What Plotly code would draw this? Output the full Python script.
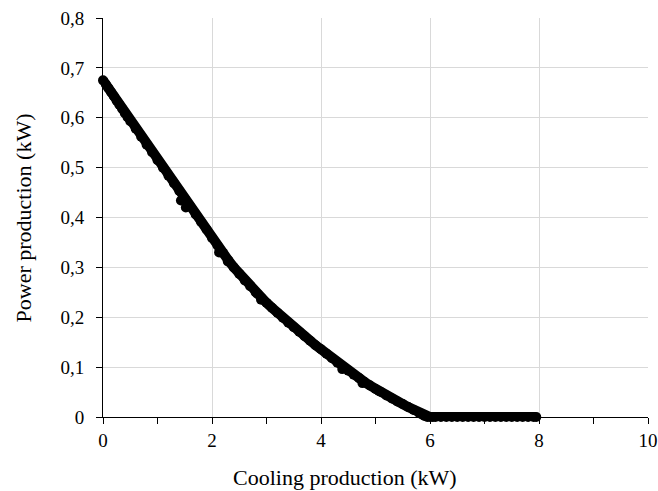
import plotly.graph_objects as go

# Main trend of the scatter: cooling production (kW) vs power production (kW)
cooling = [0.00, 0.05, 0.10, 0.15, 0.20, 0.25, 0.30, 0.35, 0.40, 0.45,
           0.50, 0.60, 0.70, 0.80, 0.90, 1.00, 1.10, 1.20, 1.30, 1.40,
           1.50, 1.60, 1.70, 1.80, 1.90, 2.00, 2.10, 2.20, 2.30, 2.40,
           2.50, 2.60, 2.70, 2.80, 2.90, 3.00, 3.10, 3.20, 3.30, 3.40,
           3.50, 3.60, 3.70, 3.80, 3.90, 4.00, 4.10, 4.20, 4.30, 4.40,
           4.50, 4.60, 4.70, 4.80, 4.90, 5.00, 5.10, 5.20, 5.30, 5.40,
           5.50, 5.60, 5.70, 5.80, 5.85, 5.90, 5.95, 6.00, 6.05, 6.10,
           6.20, 6.30, 6.40, 6.50, 6.60, 6.70, 6.80, 6.90, 7.00, 7.10,
           7.20, 7.30, 7.40, 7.50, 7.60, 7.70, 7.80, 7.90, 7.95]
power = [0.675, 0.667, 0.659, 0.651, 0.643, 0.634, 0.626, 0.618, 0.609, 0.601,
         0.593, 0.578, 0.562, 0.546, 0.531, 0.515, 0.500, 0.484, 0.469, 0.453,
         0.438, 0.422, 0.406, 0.391, 0.376, 0.359, 0.344, 0.329, 0.314, 0.300,
         0.287, 0.274, 0.262, 0.250, 0.239, 0.229, 0.219, 0.209, 0.199, 0.189,
         0.180, 0.171, 0.162, 0.153, 0.144, 0.136, 0.127, 0.118, 0.109, 0.101,
         0.093, 0.085, 0.078, 0.070, 0.063, 0.056, 0.050, 0.043, 0.037, 0.031,
         0.026, 0.020, 0.014, 0.008, 0.005, 0.002, 0.000, 0.000, 0.000, 0.000,
         0.000, 0.000, 0.000, 0.000, 0.000, 0.000, 0.000, 0.000, 0.000, 0.000,
         0.000, 0.000, 0.000, 0.000, 0.000, 0.000, 0.000, 0.000, 0.000]

# Scattered points lying slightly off the main trend
cooling_off = [1.43, 1.52, 2.13, 2.29, 2.83, 2.90, 4.39, 4.76, 5.06, 5.88, 5.96, 6.04]
power_off = [0.434, 0.420, 0.330, 0.312, 0.247, 0.235, 0.096, 0.068, 0.052, -0.003, -0.004, -0.003]

y_tickvals = [0, 0.1, 0.2, 0.3, 0.4, 0.5, 0.6, 0.7, 0.8]
y_ticktext = ["0", "0,1", "0,2", "0,3", "0,4", "0,5", "0,6", "0,7", "0,8"]
x_tickvals = [0, 2, 4, 6, 8, 10]
x_ticktext = ["0", "2", "4", "6", "8", "10"]

x_title = "Cooling production (kW)"
y_title = "Power production (kW)"

FONT = "Liberation Serif, Times New Roman, serif"

fig = go.Figure()
fig.add_trace(go.Scatter(
    x=cooling, y=power, mode="lines+markers",
    line=dict(color="black", width=10, shape="linear"),
    marker=dict(color="black", size=10, line=dict(width=0)),
    cliponaxis=False, showlegend=False,
))
fig.add_trace(go.Scatter(
    x=cooling_off, y=power_off, mode="markers",
    marker=dict(color="black", size=10, line=dict(width=0)),
    cliponaxis=False, showlegend=False,
))

fig.update_layout(
    width=658, height=491,
    margin=dict(l=103, r=10, t=18, b=74, autoexpand=False),
    paper_bgcolor="white", plot_bgcolor="white",
    font=dict(family=FONT, size=19, color="black"),
    xaxis=dict(
        range=[0, 10], tickvals=x_tickvals, ticktext=x_ticktext,
        showgrid=True, gridcolor="#d9d9d9", gridwidth=1,
        showline=True, linecolor="black", linewidth=1,
        ticks="outside", ticklen=6, tickcolor="black", tickwidth=1,
        minor=dict(dtick=1, tick0=0, ticks="outside", ticklen=6,
                   tickcolor="black", tickwidth=1, showgrid=False),
        zeroline=False, fixedrange=True, automargin=False,
        tickfont=dict(family=FONT, size=19, color="black"),
    ),
    yaxis=dict(
        range=[0, 0.8], tickvals=y_tickvals, ticktext=y_ticktext,
        showgrid=True, gridcolor="#d9d9d9", gridwidth=1,
        showline=True, linecolor="black", linewidth=1,
        ticks="outside", ticklen=6, tickcolor="black", tickwidth=1,
        zeroline=False, fixedrange=True, automargin=False,
        tickfont=dict(family=FONT, size=19, color="black"),
        ticklabelstandoff=8,
    ),
    annotations=[
        dict(text=x_title, xref="paper", yref="paper", x=0.444, y=-0.1515,
             xanchor="center", yanchor="middle", showarrow=False,
             font=dict(family=FONT, size=22, color="black")),
        dict(text=y_title, xref="paper", yref="paper", x=-0.145, y=0.5,
             xanchor="center", yanchor="middle", showarrow=False, textangle=-90,
             font=dict(family=FONT, size=22, color="black")),
    ],
)

fig.write_html("out.html")
